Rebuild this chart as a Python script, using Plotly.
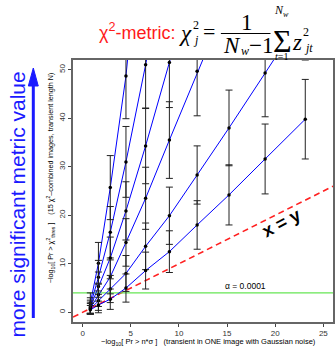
import plotly.graph_objects as go

# ---- data ----
nsig_x = [0.80, 1.64, 2.87, 4.50, 6.54, 9.01, 11.89, 15.20, 18.95, 23.12]

line1_y = [1.9, 10.1, 25.7, 48.7, 89.0, None, None, None, None, None]
line1_e = [2.1, 4.3, 6.6, 8.8, 12.0, None, None, None, None, None]
line2_y = [1.4, 7.2, 16.5, 31.0, 51.0, 78.0, None, None, None, None]
line2_e = [1.6, 3.5, 5.3, 7.3, 9.0, 11.0, None, None, None, None]
line3_y = [1.1, 5.3, 11.2, 20.9, 34.3, 51.5, 73.0, None, None, None]
line3_e = [1.4, 3.0, 4.3, 6.0, 7.8, 9.3, 11.0, None, None, None]
line4_y = [0.9, 3.6, 7.3, 14.4, 23.5, 35.5, 49.7, 65.0, None, None]
line4_e = [1.2, 2.4, 3.5, 4.9, 6.4, 7.9, 9.2, 10.5, None, None]
line5_y = [0.7, 2.4, 4.8, 8.0, 13.6, 19.9, 28.3, 38.0, 49.3, 62.0]
line5_e = [1.1, 2.0, 2.8, 3.7, 4.8, 5.9, 6.0, 7.8, 9.0, 10.0]
line6_y = [0.5, 1.5, 2.7, 5.0, 8.6, 12.5, 18.0, 24.2, 31.6, 39.8]
line6_e = [0.9, 1.6, 2.1, 2.9, 3.8, 4.3, 5.0, 6.2, 7.2, 8.2]

series = [(line1_y, line1_e), (line2_y, line2_e), (line3_y, line3_e),
          (line4_y, line4_e), (line5_y, line5_e), (line6_y, line6_e)]

x_ticks = [0, 5, 10, 15, 20, 25]
y_ticks = [0, 10, 20, 30, 40, 50]
x_range = [-1, 26]
y_range = [-2, 52]
alpha_level = 4.0   # -log10(0.0001)
diag = [-1, 26]

# ---- layout geometry ----
W, H = 336, 352
L, R, T, B = 73, 1, 60, 30
PW, PH = W - L - R, H - T - B


def px(x):
    return (x - L) / PW


def py(y):
    return (H - B - y) / PH


fig = go.Figure()

# reference lines
fig.add_trace(go.Scatter(x=diag, y=diag, mode='lines',
                         line=dict(color='#ff2020', width=1.6, dash='6px,4px'),
                         hoverinfo='skip', showlegend=False))
fig.add_trace(go.Scatter(x=x_range, y=[alpha_level, alpha_level], mode='lines',
                         line=dict(color='#66e655', width=1.3),
                         hoverinfo='skip', showlegend=False))

for ys, es in series:
    fig.add_trace(go.Scatter(x=nsig_x, y=ys, mode='lines',
                             line=dict(color='#0000ff', width=1),
                             connectgaps=False, showlegend=False))
for ys, es in series:
    fig.add_trace(go.Scatter(x=nsig_x, y=ys, mode='markers',
                             marker=dict(color='black', size=3.5),
                             error_y=dict(type='data', array=es, color='#222222',
                                          thickness=1, width=3.5),
                             showlegend=False))

ann = []
serif = 'Liberation Serif'
sans = 'Liberation Sans'


def A(text, x, y, size, color='black', family=serif, angle=0, xanchor='center'):
    ann.append(dict(text=text, x=px(x), y=py(y), xref='paper', yref='paper',
                    showarrow=False, font=dict(size=size, color=color, family=family),
                    textangle=angle, xanchor=xanchor, yanchor='middle'))


# title: red label + formula
A('χ<sup>2</sup>-metric:', 97, 31, 18, color='#ff1a1a', family=sans, xanchor='left')
A('<i>χ</i>', 186, 33, 23)
A('2', 197, 25, 12)
A('<i>j</i>', 197, 40, 12)
A('=', 210, 31, 22)
A('1', 248, 22, 23)
A('<i>N</i>', 233, 45, 23)
A('<i>w</i>', 246, 51, 12)
A('−1', 262, 45, 23)
A('Σ', 284, 41, 32)
A('<i>N</i>', 281, 10, 12)
A('<i>w</i>', 288, 14, 8)
A('<i>t</i>=1', 283, 57, 10)
A('<i>z</i>', 299, 43, 23)
A('2', 308, 32, 12)
A('<i>jt</i>', 310, 48, 12)

# in-plot labels
A('α = 0.0001', 247, 286, 8.5, family=sans)
A('<b>x = y</b>', 283, 223, 18, family=sans, angle=-28)

# axis titles
A('−log<sub>10</sub>[ Pr &gt; n*σ ]   (transient in ONE image with Gaussian noise)',
  210, 342, 7.5, family=sans)
A('−log<sub>10</sub>[ Pr &gt; χ<sup>2</sup><sub>thres</sub> ]    (15 χ<sup>2</sup>–combined images, transient length N)',
  50, 178, 7.2, family=sans, angle=-90)
A('more significant metric value', 17, 204, 21, color='#1a1aff', family=sans, angle=-90)

shapes = [
    # fraction bar
    dict(type='line', xref='paper', yref='paper', x0=px(222), x1=px(272),
         y0=py(33.5), y1=py(33.5), line=dict(color='black', width=1.2)),
    # blue arrow
    dict(type='line', xref='paper', yref='paper', x0=px(33), x1=px(33),
         y0=py(318), y1=py(84), line=dict(color='#1a1aff', width=3)),
    dict(type='path', xref='paper', yref='paper',
         path=f'M {px(28)} {py(86)} L {px(38)} {py(86)} L {px(33)} {py(68)} Z',
         fillcolor='#1a1aff', line=dict(color='#1a1aff', width=1)),
]

fig.update_layout(
    width=W, height=H,
    margin=dict(l=L, r=R, t=T, b=B, pad=0),
    paper_bgcolor='white', plot_bgcolor='white',
    annotations=ann, shapes=shapes,
    xaxis=dict(range=x_range, tickvals=x_ticks, ticks='outside', ticklen=3,
               tickcolor='#444', showgrid=False, zeroline=False,
               showline=True, linecolor='#666', linewidth=1.5, mirror=True,
               tickfont=dict(size=8, family=sans, color='#333')),
    yaxis=dict(range=y_range, tickvals=y_ticks, ticks='outside', ticklen=3,
               tickcolor='#444', showgrid=False, zeroline=False,
               showline=True, linecolor='#666', linewidth=1.5, mirror=True,
               tickangle=-90,
               tickfont=dict(size=8, family=sans, color='#333')),
)

fig.write_html('out.html', config={'displayModeBar': False},
               post_script="document.body.style.margin='0';document.body.style.overflow='hidden';")
